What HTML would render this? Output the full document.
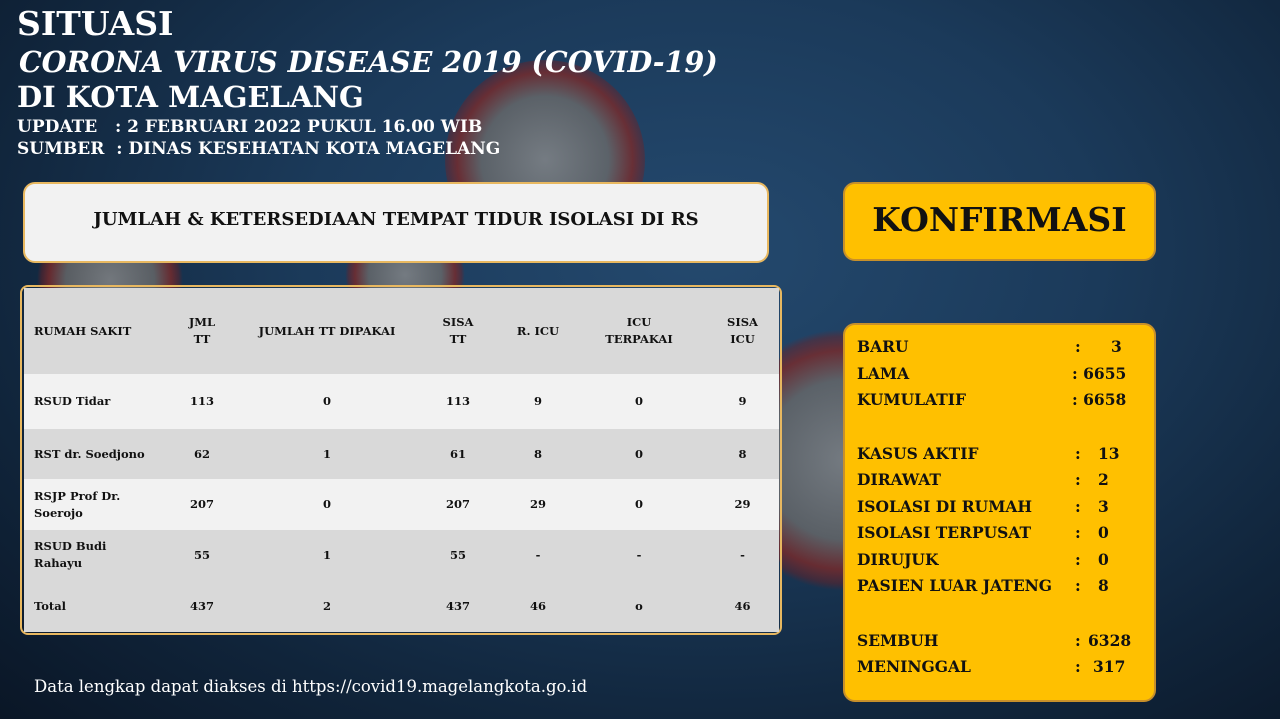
<!DOCTYPE html>
<html><head><meta charset="utf-8"><style>
*{margin:0;padding:0;box-sizing:border-box}
body{width:1280px;height:719px;overflow:hidden;position:relative;font-family:"DejaVu Serif","Liberation Serif",serif;font-weight:bold;
background:radial-gradient(ellipse at 55% 35%,#24496e 0%,#1b3a5a 40%,#10243a 75%,#0a1626 100%);}
.a{position:absolute;white-space:nowrap}
.w{color:#fff}
.virus{position:absolute;border-radius:50%;background:radial-gradient(circle,#8a8a8a 0%,#6a6a6a 45%,#7a2a2a 62%,rgba(120,30,30,0.5) 70%,rgba(0,0,0,0) 74%);opacity:.8}
.box{position:absolute;border-radius:12px}
table{border-collapse:collapse;position:absolute;left:24px;top:288px;width:755px;font-size:11.5px;color:#111}
td{text-align:center;padding:0 4px;line-height:17px}
td:first-child{text-align:left;padding-left:10px}
.g{background:#d9d9d9}.l{background:#f2f2f2}
.r{position:absolute;font-size:15.5px;color:#111}
</style></head><body>
<div class="virus" style="left:445px;top:60px;width:200px;height:200px"></div>
<div class="virus" style="left:20px;top:240px;width:180px;height:80px"></div>
<div class="virus" style="left:330px;top:245px;width:150px;height:60px"></div>
<div class="virus" style="left:770px;top:300px;width:150px;height:320px;border-radius:40%"></div>

<div class="a w" style="left:17px;top:4px;font-size:33px">SITUASI</div>
<div class="a w" style="left:19px;top:45px;font-size:28.5px;font-style:italic">CORONA VIRUS DISEASE 2019 (COVID-19)</div>
<div class="a w" style="left:17px;top:80px;font-size:29px">DI KOTA MAGELANG</div>
<div class="a w" style="left:17px;top:117px;font-size:17px">UPDATE&nbsp;&nbsp; : 2 FEBRUARI 2022 PUKUL 16.00 WIB</div>
<div class="a w" style="left:17px;top:139px;font-size:17px">SUMBER&nbsp; : DINAS KESEHATAN KOTA MAGELANG</div>

<div class="box" style="left:23px;top:182px;width:746px;height:81px;background:#f2f2f2;border:2px solid #e8b860"></div>
<div class="a" style="left:23px;top:209px;width:746px;text-align:center;font-size:18px;color:#111">JUMLAH &amp; KETERSEDIAAN TEMPAT TIDUR ISOLASI DI RS</div>

<div class="box" style="left:20px;top:285px;width:762px;height:350px;border:2px solid #e8b860;border-radius:8px"></div>
<table>
<colgroup><col style="width:138px"><col style="width:80px"><col style="width:170px"><col style="width:92px"><col style="width:68px"><col style="width:134px"><col style="width:73px"></colgroup>
<tr class="g" style="height:86px"><td>RUMAH SAKIT</td><td>JML<br>TT</td><td>JUMLAH TT DIPAKAI</td><td>SISA<br>TT</td><td>R. ICU</td><td>ICU<br>TERPAKAI</td><td>SISA<br>ICU</td></tr>
<tr class="l" style="height:55px"><td>RSUD Tidar</td><td>113</td><td>0</td><td>113</td><td>9</td><td>0</td><td>9</td></tr>
<tr class="g" style="height:50px"><td>RST dr. Soedjono</td><td>62</td><td>1</td><td>61</td><td>8</td><td>0</td><td>8</td></tr>
<tr class="l" style="height:51px"><td>RSJP Prof Dr.<br>Soerojo</td><td>207</td><td>0</td><td>207</td><td>29</td><td>0</td><td>29</td></tr>
<tr class="g" style="height:50px"><td>RSUD Budi<br>Rahayu</td><td>55</td><td>1</td><td>55</td><td>-</td><td>-</td><td>-</td></tr>
<tr class="g" style="height:52px"><td>Total</td><td>437</td><td>2</td><td>437</td><td>46</td><td>o</td><td>46</td></tr>
</table>

<div class="a w" style="left:34px;top:677px;font-size:16.5px;font-weight:normal">Data lengkap dapat diakses di https://covid19.magelangkota.go.id</div>

<div class="box" style="left:843px;top:182px;width:313px;height:79px;background:#ffc000;border:2px solid #c8902a"></div>
<div class="a" style="left:843px;top:200px;width:313px;text-align:center;font-size:33px;color:#111">KONFIRMASI</div>

<div class="box" style="left:843px;top:323px;width:313px;height:379px;background:#ffc000;border:2px solid #c8902a"></div>
<div class="r" style="left:857px;top:337px">BARU</div><div class="r" style="left:1075px;top:337px">:</div><div class="r" style="left:1111px;top:337px">3</div>
<div class="r" style="left:857px;top:364px">LAMA</div><div class="r" style="left:1072px;top:364px">: 6655</div>
<div class="r" style="left:857px;top:390px">KUMULATIF</div><div class="r" style="left:1072px;top:390px">: 6658</div>
<div class="r" style="left:857px;top:444px">KASUS AKTIF</div><div class="r" style="left:1075px;top:444px">:</div><div class="r" style="left:1098px;top:444px">13</div>
<div class="r" style="left:857px;top:470px">DIRAWAT</div><div class="r" style="left:1075px;top:470px">:</div><div class="r" style="left:1098px;top:470px">2</div>
<div class="r" style="left:857px;top:497px">ISOLASI DI RUMAH</div><div class="r" style="left:1075px;top:497px">:</div><div class="r" style="left:1098px;top:497px">3</div>
<div class="r" style="left:857px;top:523px">ISOLASI TERPUSAT</div><div class="r" style="left:1075px;top:523px">:</div><div class="r" style="left:1098px;top:523px">0</div>
<div class="r" style="left:857px;top:550px">DIRUJUK</div><div class="r" style="left:1075px;top:550px">:</div><div class="r" style="left:1098px;top:550px">0</div>
<div class="r" style="left:857px;top:576px">PASIEN LUAR JATENG</div><div class="r" style="left:1075px;top:576px">:</div><div class="r" style="left:1098px;top:576px">8</div>
<div class="r" style="left:857px;top:631px">SEMBUH</div><div class="r" style="left:1075px;top:631px">:</div><div class="r" style="left:1088px;top:631px">6328</div>
<div class="r" style="left:857px;top:657px">MENINGGAL</div><div class="r" style="left:1075px;top:657px">:</div><div class="r" style="left:1093px;top:657px">317</div>
</body></html>
